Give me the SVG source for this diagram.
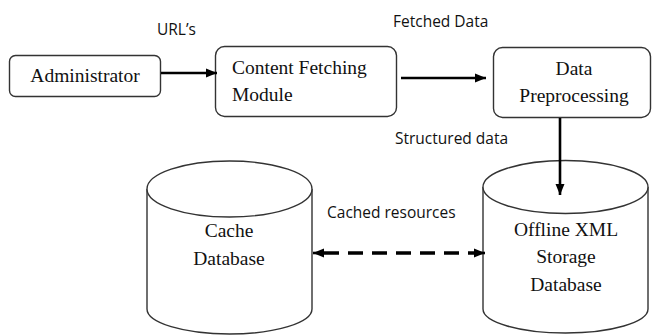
<svg xmlns="http://www.w3.org/2000/svg" width="652" height="336" viewBox="0 0 652 336">
<style>
.box{fill:#fff;stroke:#333;stroke-width:1.4}
.cyl{fill:#fff;stroke:#333;stroke-width:1.4}
.serif{font-family:"Liberation Serif","DejaVu Serif",serif;font-size:19.5px;fill:#111}
.lbl{font-family:"Open Sans","DejaVu Sans",sans-serif;font-size:15.5px;fill:#111}
.arr{stroke:#000;stroke-width:2.6;fill:none}
.dash{stroke:#000;stroke-width:3.5;fill:none;stroke-dasharray:15 9}
</style>
<defs>
<marker id="ah" markerUnits="userSpaceOnUse" markerWidth="12" markerHeight="12" viewBox="0 0 12 12" refX="11" refY="6" orient="auto-start-reverse">
<path d="M0,1.5 L11,6 L0,10.5 z" fill="#000"/>
</marker>
</defs>
<g id="administrator">
<rect class="box" x="9.5" y="55.5" width="151" height="41" rx="6"/>
<text class="serif" x="85" y="82" text-anchor="middle">Administrator</text>
</g>
<g id="content-fetching">
<rect class="box" x="215.5" y="46.5" width="181" height="70" rx="9"/>
<text class="serif" x="232" y="74">Content Fetching</text>
<text class="serif" x="232" y="101">Module</text>
</g>
<g id="data-preprocessing">
<rect class="box" x="493.5" y="47.5" width="157" height="70" rx="9"/>
<text class="serif" x="574" y="75" text-anchor="middle">Data</text>
<text class="serif" x="574" y="102" text-anchor="middle">Preprocessing</text>
</g>
<g id="cache-database">
<path class="cyl" d="M147,189 L147,309 A82.5,25 0 0 0 312,309 L312,189"/>
<ellipse class="cyl" cx="229.5" cy="189" rx="82.5" ry="28"/>
<text class="serif" x="229" y="237" text-anchor="middle">Cache</text>
<text class="serif" x="229" y="265" text-anchor="middle">Database</text>
</g>
<g id="offline-xml">
<path class="cyl" d="M483,187 L483,309 A82.5,24 0 0 0 648,309 L648,187"/>
<ellipse class="cyl" cx="565.5" cy="187" rx="82.5" ry="26.5"/>
<text class="serif" x="566" y="236" text-anchor="middle">Offline XML</text>
<text class="serif" x="566" y="263" text-anchor="middle">Storage</text>
<text class="serif" x="566" y="291" text-anchor="middle">Database</text>
</g>
<g id="connectors">
<line class="arr" x1="161" y1="73" x2="217" y2="73" marker-end="url(#ah)"/>
<line class="arr" x1="401" y1="78" x2="486" y2="78" marker-end="url(#ah)"/>
<line class="arr" x1="560" y1="118" x2="560" y2="195" marker-end="url(#ah)"/>
<line class="dash" x1="324" y1="253" x2="474" y2="253"/>
<line class="arr" x1="313" y1="253" x2="324" y2="253" marker-start="url(#ah)"/>
<line class="arr" x1="474" y1="253" x2="485" y2="253" marker-end="url(#ah)"/>
<text class="lbl" x="157" y="35">URL’s</text>
<text class="lbl" x="393" y="27">Fetched Data</text>
<text class="lbl" x="395" y="144">Structured data</text>
<text class="lbl" x="327" y="218">Cached resources</text>
</g>
</svg>
